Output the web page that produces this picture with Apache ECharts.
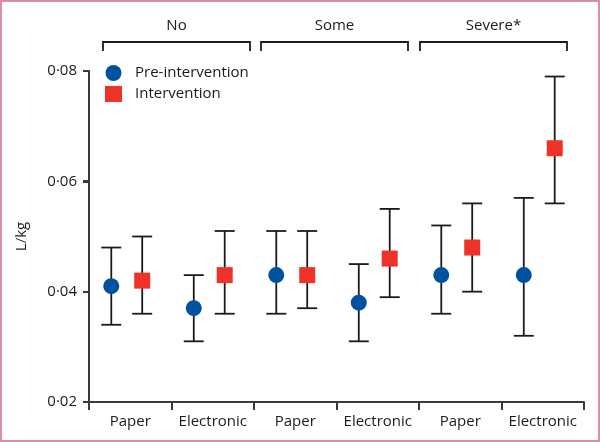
<!DOCTYPE html>
<html>
<head>
<meta charset="utf-8">
<script src="https://cdn.jsdelivr.net/npm/echarts@6/dist/echarts.min.js"></script>
<style>
html,body{margin:0;padding:0;background:#fff;}
#wrap{position:relative;width:600px;height:442px;}
#chart{width:600px;height:442px;}
#frame{position:absolute;left:0;top:0;width:600px;height:442px;box-sizing:border-box;border:2px solid #dc8ca4;pointer-events:none;}
</style>
</head>
<body>
<div id="wrap"><div id="chart"></div><div id="frame"></div></div>
<script>
// ---- data ----
var categories = ['Paper', 'Electronic', 'Paper', 'Electronic', 'Paper', 'Electronic'];
var groups = ['No', 'Some', 'Severe*'];
var preMean = [0.041, 0.037, 0.043, 0.038, 0.043, 0.043];
var preLow  = [0.034, 0.031, 0.036, 0.031, 0.036, 0.032];
var preHigh = [0.048, 0.043, 0.051, 0.045, 0.052, 0.057];
var intMean = [0.042, 0.043, 0.043, 0.046, 0.048, 0.066];
var intLow  = [0.036, 0.036, 0.037, 0.039, 0.040, 0.056];
var intHigh = [0.050, 0.051, 0.051, 0.055, 0.056, 0.079];
var yTicks = [0.02, 0.04, 0.06, 0.08];

var FONT = '"Open Sans", "Noto Sans", sans-serif';
var BLUE = '#00529f';
var RED = '#ee3227';
var INK = '#1e1a1b';
var AXIS = '#3a3a3a';

function rows(m, l, h) {
  return m.map(function (v, i) { return [i, v, l[i], h[i]]; });
}

function makeRender(offsetFrac, shape, color) {
  return function (params, api) {
    var idx = api.value(0);
    var bw = api.size([1, 0])[0];
    var c = api.coord([idx, api.value(1)]);
    var lo = api.coord([idx, api.value(2)]);
    var hi = api.coord([idx, api.value(3)]);
    var x = c[0] + offsetFrac * bw;
    var cap = 10;
    var ls = {stroke: INK, lineWidth: 1.8};
    var children = [
      {type: 'line', shape: {x1: x, y1: hi[1], x2: x, y2: lo[1]}, style: ls},
      {type: 'line', shape: {x1: x - cap, y1: hi[1], x2: x + cap, y2: hi[1]}, style: ls},
      {type: 'line', shape: {x1: x - cap, y1: lo[1], x2: x + cap, y2: lo[1]}, style: ls}
    ];
    if (shape === 'circle') {
      children.push({type: 'circle', shape: {cx: x, cy: c[1], r: 8}, style: {fill: color}});
    } else {
      children.push({type: 'rect', shape: {x: x - 8, y: c[1] - 8, width: 16, height: 16}, style: {fill: color}});
    }
    return {type: 'group', children: children};
  };
}

var chart = echarts.init(document.getElementById('chart'));
var option = {
  animation: false,
  grid: {left: 89, right: 16, top: 71, bottom: 40},
  legend: {
    orient: 'vertical', left: 100, top: 60, itemGap: 5,
    itemWidth: 17, itemHeight: 16,
    textStyle: {fontFamily: FONT, fontSize: 15, color: INK, padding: [0, 0, 0, 8]},
    data: [{name: 'Pre-intervention', icon: 'circle'}, {name: 'Intervention', icon: 'rect'}]
  },
  xAxis: {
    type: 'category', data: categories, boundaryGap: true,
    axisLine: {show: true, lineStyle: {color: AXIS, width: 2}},
    axisTick: {show: true, inside: false, alignWithLabel: false, interval: 0, length: 8, lineStyle: {color: AXIS, width: 2}},
    axisLabel: {show: true, interval: 0, fontFamily: FONT, fontSize: 15, color: INK, margin: 12}
  },
  yAxis: {
    type: 'value', min: yTicks[0], max: yTicks[yTicks.length - 1], interval: 0.02,
    name: 'L/kg', nameLocation: 'middle', nameGap: 60,
    nameTextStyle: {fontFamily: FONT, fontSize: 15, color: INK},
    axisLine: {show: true, lineStyle: {color: AXIS, width: 2}},
    axisTick: {show: true, inside: false, length: 6, lineStyle: {color: AXIS, width: 2}},
    splitLine: {show: false},
    axisLabel: {fontFamily: FONT, fontSize: 15, color: INK, margin: 12,
      formatter: function (v) { return v.toFixed(2).replace('.', '\u00b7'); }}
  },
  series: [
    {name: 'Pre-intervention', type: 'custom', itemStyle: {color: BLUE},
     renderItem: makeRender(-0.23, 'circle', BLUE), data: rows(preMean, preLow, preHigh),
     encode: {x: 0, y: [1, 2, 3]}},
    {name: 'Intervention', type: 'custom', itemStyle: {color: RED},
     renderItem: makeRender(0.145, 'rect', RED), data: rows(intMean, intLow, intHigh),
     encode: {x: 0, y: [1, 2, 3]}}
  ]
};
chart.setOption(option);

// group brackets above the plot, and y-axis tick marks
var g = [];
var bracketStart = [103, 261, 420];
var bracketWidth = 147;
groups.forEach(function (name, i) {
  var x0 = bracketStart[i], x1 = x0 + bracketWidth;
  g.push({type: 'polyline', shape: {points: [[x0, 51], [x0, 42], [x1, 42], [x1, 51]]},
          style: {stroke: INK, lineWidth: 1.8, fill: null}});
  g.push({type: 'text', x: (x0 + x1) / 2, y: 26,
          style: {text: name, font: '15px ' + FONT, fill: INK, align: 'center', verticalAlign: 'middle'}});
});
yTicks.forEach(function (v) {
  var p = chart.convertToPixel({gridIndex: 0}, [0, v]);
  var y = Math.round(p[1]);
  g.push({type: 'line', shape: {x1: 83, y1: y, x2: 89, y2: y}, style: {stroke: AXIS, lineWidth: 2}});
});
chart.setOption({graphic: g});
</script>
</body>
</html>
